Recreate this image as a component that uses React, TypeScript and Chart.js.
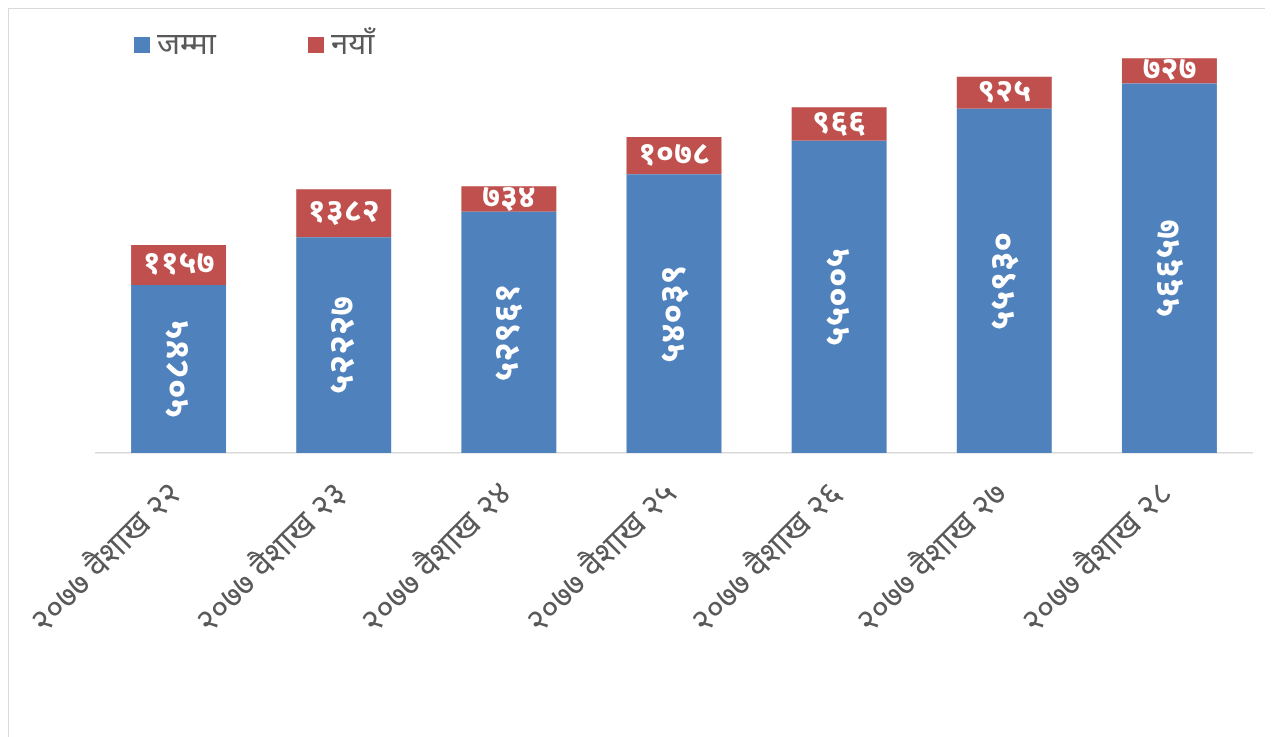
import React, { useEffect, useRef } from "react";
import { Chart, registerables } from "chart.js";

Chart.register(...registerables);

const categories = [
  "२०७७ वैशाख २२",
  "२०७७ वैशाख २३",
  "२०७७ वैशाख २४",
  "२०७७ वैशाख २५",
  "२०७७ वैशाख २६",
  "२०७७ वैशाख २७",
  "२०७७ वैशाख २८",
];
const totalLabel = "जम्मा";
const newLabel = "नयाँ";
const totalValues = [50845, 52227, 52961, 54039, 55005, 55930, 56657];
const newValues = [1157, 1382, 734, 1078, 966, 925, 727];
const yMin = 46000;
const yMax = 58000;

const BLUE = "#4F81BD";
const RED = "#C0504D";
const FONT = "'Noto Sans Devanagari', 'Noto Sans', 'DejaVu Sans', sans-serif";

const devDigits = "०१२३४५६७८९";
const toDev = (n: number) =>
  String(n).replace(/[0-9]/g, (d) => devDigits[Number(d)]);

const labelPlugin = {
  id: "barLabels",
  afterDatasetsDraw(chart: any) {
    const ctx = chart.ctx;
    const bottom = chart.chartArea.bottom;
    ctx.save();
    ctx.fillStyle = "#ffffff";
    ctx.textAlign = "center";
    ctx.textBaseline = "middle";
    chart.data.datasets.forEach((ds: any, di: number) => {
      const meta = chart.getDatasetMeta(di);
      meta.data.forEach((el: any, i: number) => {
        const v = ds.data[i];
        const txt = toDev(v);
        const base = Math.min(el.base, bottom);
        const cy = (el.y + base) / 2;
        if (di === 0) {
          ctx.save();
          ctx.font = `bold 35px ${FONT}`;
          ctx.translate(el.x + 3, cy);
          ctx.rotate(-Math.PI / 2);
          ctx.fillText(txt, 0, 0);
          ctx.restore();
        } else {
          ctx.font = `bold 32px ${FONT}`;
          ctx.fillText(txt, el.x, cy + 2);
        }
      });
    });
    ctx.restore();
  },
};

const legendPlugin = {
  id: "customLegend",
  afterDraw(chart: any) {
    const ctx = chart.ctx;
    ctx.save();
    const startXs = [125, 299];
    chart.data.datasets.forEach((ds: any, i: number) => {
      const x = startXs[i];
      const y = 28;
      ctx.fillStyle = ds.backgroundColor;
      ctx.fillRect(x, y, 16, 16);
      ctx.fillStyle = "#595959";
      ctx.font = `31px ${FONT}`;
      ctx.textAlign = "left";
      ctx.textBaseline = "middle";
      ctx.fillText(ds.label, x + 23, y + 11);
    });
    ctx.restore();
  },
};

export default function App() {
  const ref = useRef<HTMLCanvasElement | null>(null);
  useEffect(() => {
    if (!ref.current) return;
    const chart = new Chart(ref.current, {
      type: "bar",
      data: {
        labels: categories,
        datasets: [
          {
            label: totalLabel,
            data: totalValues,
            backgroundColor: BLUE,
            barPercentage: 0.575,
            categoryPercentage: 1,
          },
          {
            label: newLabel,
            data: newValues,
            backgroundColor: RED,
            barPercentage: 0.575,
            categoryPercentage: 1,
          },
        ],
      },
      options: {
        animation: false,
        responsive: false,
        maintainAspectRatio: false,
        layout: { padding: { left: 87, right: 13, top: 28, bottom: 0 } },
        plugins: {
          legend: { display: false },
          tooltip: { enabled: false },
        },
        scales: {
          x: {
            stacked: true,
            grid: { display: false, drawTicks: false },
            border: { display: true, color: "#d9d9d9", width: 1.5 },
            ticks: {
              color: "#595959",
              font: { family: FONT, size: 33 },
              minRotation: 45,
              maxRotation: 45,
              padding: 24,
            },
            afterFit(axis: any) {
              axis.height = 284;
            },
          },
          y: {
            stacked: true,
            display: false,
            min: yMin,
            max: yMax,
          },
        },
      },
      plugins: [labelPlugin, legendPlugin],
    });
    return () => chart.destroy();
  }, []);
  return (
    <div>
      <style>{`body{overflow:hidden}`}</style>
      <div
        style={{
          border: "1px solid #d9d9d9",
          width: 1256,
          height: 760,
          boxSizing: "content-box",
        }}
      >
        <canvas ref={ref} width={1256} height={728} style={{ display: "block" }} />
      </div>
    </div>
  );
}
